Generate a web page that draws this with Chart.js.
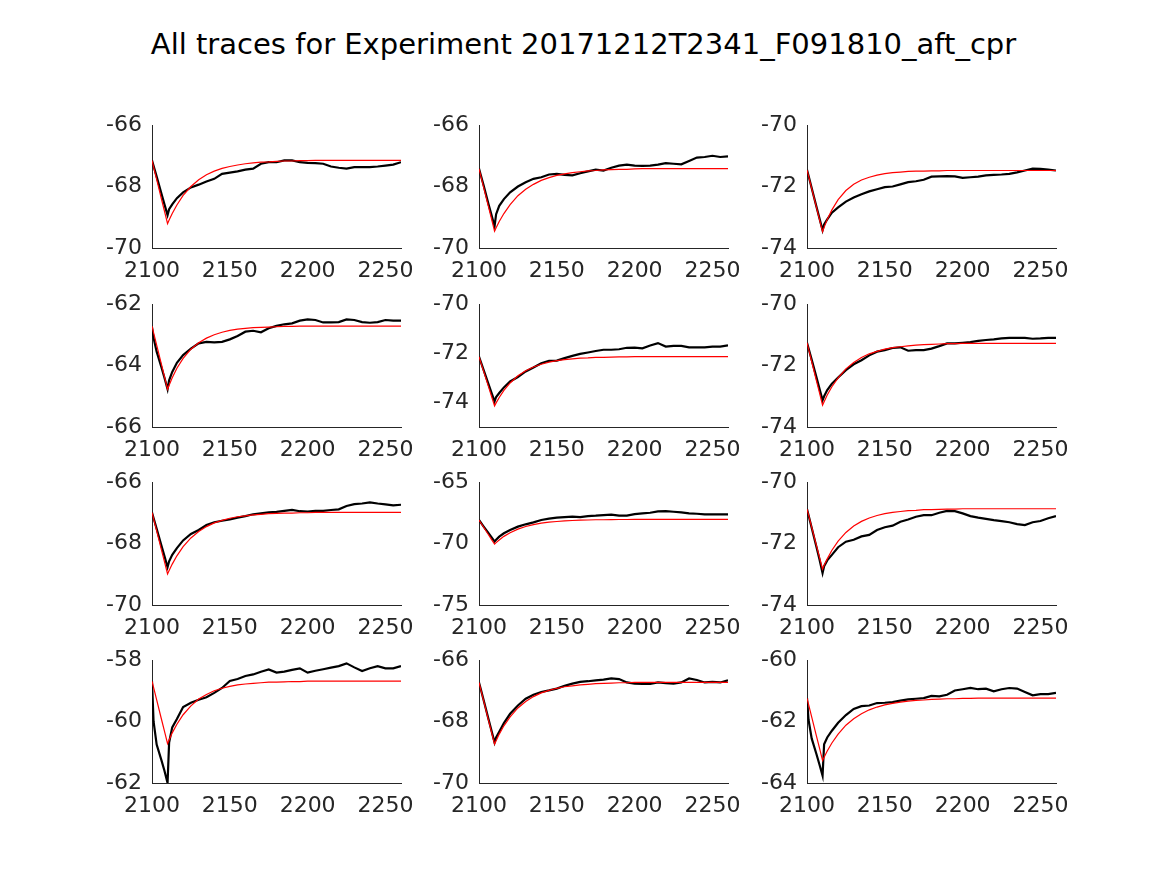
<!DOCTYPE html>
<html>
<head>
<meta charset="utf-8">
<script src="https://cdn.jsdelivr.net/npm/chart.js@4.4.1/dist/chart.umd.min.js"></script>
<style>
    body { margin: 0; background: #fff; width: 1167px; height: 875px; position: relative; overflow: hidden; font-family: 'DejaVu Sans', sans-serif; }
    #title { position: absolute; left: 0; top: 27px; width: 1167px; text-align: center; font-size: 29px; color: #000; white-space: nowrap; }
    canvas { position: absolute; }
</style>
</head>
<body>
<div id="title">All traces for Experiment 20171212T2341_F091810_aft_cpr</div>
<script>
// Sample times shared by every trace
const timePoints = [2100, 2101, 2103, 2106, 2108, 2110, 2111, 2113, 2116, 2120, 2125, 2130, 2135, 2140, 2145, 2150, 2155, 2160, 2165, 2170, 2175, 2180, 2185, 2190, 2195, 2200, 2205, 2210, 2215, 2220, 2225, 2230, 2235, 2240, 2245, 2250, 2255, 2260];
const xTicks = [2100, 2150, 2200, 2250];

// Measured traces (black) and fits (red), panels left to right, top to bottom
const trace1 = [-67.15, -67.33, -67.68, -68.22, -68.58, -68.93, -68.74, -68.58, -68.38, -68.19, -68.03, -67.94, -67.84, -67.75, -67.59, -67.55, -67.51, -67.45, -67.42, -67.26, -67.21, -67.21, -67.15, -67.15, -67.21, -67.23, -67.24, -67.26, -67.35, -67.39, -67.42, -67.37, -67.37, -67.37, -67.35, -67.32, -67.29, -67.21];
const fit1 = [-67.15, -67.36, -67.77, -68.39, -68.80, -69.21, -69.09, -68.88, -68.60, -68.29, -68.00, -67.78, -67.62, -67.50, -67.41, -67.35, -67.30, -67.26, -67.23, -67.21, -67.20, -67.18, -67.17, -67.17, -67.16, -67.16, -67.15, -67.15, -67.15, -67.15, -67.15, -67.15, -67.15, -67.15, -67.15, -67.15, -67.15, -67.15];

const trace2 = [-67.42, -67.60, -67.97, -68.55, -68.92, -69.29, -68.90, -68.63, -68.41, -68.19, -68.00, -67.86, -67.75, -67.70, -67.61, -67.59, -67.62, -67.64, -67.57, -67.51, -67.45, -67.48, -67.39, -67.32, -67.29, -67.32, -67.33, -67.32, -67.29, -67.24, -67.26, -67.28, -67.17, -67.06, -67.04, -67.00, -67.04, -67.02];
const fit2 = [-67.42, -67.62, -68.03, -68.64, -69.04, -69.45, -69.34, -69.14, -68.88, -68.59, -68.30, -68.09, -67.93, -67.80, -67.71, -67.64, -67.59, -67.55, -67.52, -67.49, -67.48, -67.46, -67.45, -67.44, -67.44, -67.43, -67.42, -67.42, -67.42, -67.42, -67.42, -67.42, -67.42, -67.42, -67.42, -67.42, -67.42, -67.42];

const trace3 = [-71.46, -71.65, -72.05, -72.64, -73.03, -73.42, -73.23, -73.07, -72.85, -72.68, -72.49, -72.36, -72.25, -72.16, -72.09, -72.02, -72.00, -71.93, -71.86, -71.83, -71.78, -71.68, -71.67, -71.66, -71.67, -71.72, -71.70, -71.68, -71.64, -71.62, -71.61, -71.59, -71.54, -71.48, -71.42, -71.43, -71.45, -71.48];
const fit3 = [-71.46, -71.66, -72.06, -72.66, -73.07, -73.47, -73.33, -73.07, -72.76, -72.43, -72.13, -71.93, -71.79, -71.70, -71.63, -71.58, -71.55, -71.53, -71.51, -71.50, -71.50, -71.49, -71.49, -71.48, -71.48, -71.48, -71.48, -71.48, -71.48, -71.48, -71.48, -71.48, -71.48, -71.48, -71.48, -71.48, -71.48, -71.48];

const trace4 = [-62.75, -63.10, -63.55, -64.05, -64.40, -64.77, -64.48, -64.21, -63.91, -63.66, -63.45, -63.28, -63.23, -63.25, -63.23, -63.15, -63.04, -62.90, -62.87, -62.92, -62.79, -62.71, -62.66, -62.63, -62.54, -62.50, -62.52, -62.60, -62.60, -62.59, -62.50, -62.52, -62.59, -62.61, -62.59, -62.52, -62.54, -62.54];
const fit4 = [-62.72, -62.93, -63.34, -63.95, -64.36, -64.77, -64.64, -64.40, -64.09, -63.77, -63.47, -63.26, -63.11, -63.00, -62.92, -62.86, -62.82, -62.79, -62.77, -62.76, -62.75, -62.74, -62.73, -62.73, -62.72, -62.72, -62.72, -62.72, -62.72, -62.72, -62.72, -62.72, -62.72, -62.72, -62.72, -62.72, -62.72, -62.72];

const trace5 = [-72.14, -72.32, -72.69, -73.24, -73.60, -73.96, -73.78, -73.62, -73.39, -73.15, -72.97, -72.74, -72.58, -72.41, -72.31, -72.30, -72.20, -72.11, -72.03, -71.97, -71.91, -71.86, -71.86, -71.84, -71.78, -71.77, -71.80, -71.69, -71.59, -71.73, -71.70, -71.70, -71.76, -71.76, -71.76, -71.73, -71.73, -71.68];
const fit5 = [-72.14, -72.34, -72.74, -73.34, -73.74, -74.14, -74.02, -73.80, -73.51, -73.21, -72.92, -72.71, -72.56, -72.45, -72.36, -72.30, -72.26, -72.23, -72.20, -72.19, -72.17, -72.17, -72.16, -72.15, -72.15, -72.14, -72.14, -72.14, -72.14, -72.14, -72.14, -72.14, -72.14, -72.14, -72.14, -72.14, -72.14, -72.14];

const trace6 = [-71.26, -71.44, -71.81, -72.37, -72.75, -73.13, -73.00, -72.80, -72.59, -72.39, -72.15, -71.96, -71.83, -71.67, -71.55, -71.50, -71.43, -71.41, -71.52, -71.50, -71.50, -71.45, -71.37, -71.28, -71.28, -71.26, -71.24, -71.20, -71.17, -71.15, -71.12, -71.10, -71.10, -71.10, -71.13, -71.12, -71.10, -71.10];
const fit6 = [-71.26, -71.46, -71.87, -72.48, -72.88, -73.29, -73.18, -72.96, -72.69, -72.40, -72.11, -71.90, -71.74, -71.62, -71.54, -71.47, -71.42, -71.39, -71.36, -71.34, -71.32, -71.31, -71.30, -71.29, -71.29, -71.28, -71.28, -71.28, -71.28, -71.28, -71.28, -71.28, -71.28, -71.28, -71.28, -71.28, -71.28, -71.28];

const trace7 = [-66.99, -67.17, -67.52, -68.06, -68.41, -68.77, -68.58, -68.37, -68.15, -67.90, -67.69, -67.56, -67.40, -67.31, -67.26, -67.22, -67.16, -67.11, -67.05, -67.02, -66.99, -66.97, -66.94, -66.91, -66.95, -66.96, -66.94, -66.94, -66.91, -66.89, -66.78, -66.72, -66.70, -66.66, -66.70, -66.73, -66.76, -66.74];
const fit7 = [-66.99, -67.19, -67.59, -68.19, -68.59, -68.99, -68.88, -68.67, -68.40, -68.10, -67.82, -67.61, -67.45, -67.33, -67.25, -67.18, -67.13, -67.10, -67.07, -67.05, -67.03, -67.02, -67.01, -67.01, -67.00, -67.00, -66.99, -66.99, -66.99, -66.99, -66.99, -66.99, -66.99, -66.99, -66.99, -66.99, -66.99, -66.99];

const trace8 = [-68.09, -68.27, -68.62, -69.14, -69.49, -69.84, -69.70, -69.44, -69.17, -68.90, -68.63, -68.44, -68.28, -68.09, -67.98, -67.90, -67.85, -67.82, -67.85, -67.77, -67.74, -67.69, -67.66, -67.74, -67.74, -67.61, -67.55, -67.50, -67.39, -67.37, -67.42, -67.47, -67.55, -67.58, -67.63, -67.63, -67.63, -67.63];
const fit8 = [-68.09, -68.29, -68.68, -69.27, -69.66, -70.05, -69.93, -69.71, -69.42, -69.12, -68.83, -68.62, -68.46, -68.35, -68.27, -68.21, -68.16, -68.13, -68.10, -68.09, -68.07, -68.07, -68.06, -68.05, -68.05, -68.04, -68.04, -68.04, -68.04, -68.04, -68.04, -68.04, -68.04, -68.04, -68.04, -68.04, -68.04, -68.04];

const trace9 = [-70.88, -71.08, -71.49, -72.10, -72.51, -72.96, -72.74, -72.55, -72.37, -72.12, -71.94, -71.88, -71.77, -71.72, -71.56, -71.47, -71.42, -71.29, -71.22, -71.13, -71.08, -71.08, -71.00, -70.94, -70.95, -71.02, -71.11, -71.16, -71.20, -71.24, -71.27, -71.31, -71.37, -71.40, -71.31, -71.27, -71.18, -71.11];
const fit9 = [-70.88, -71.07, -71.47, -72.05, -72.44, -72.83, -72.71, -72.50, -72.22, -71.92, -71.64, -71.43, -71.28, -71.17, -71.09, -71.03, -70.99, -70.96, -70.93, -70.92, -70.90, -70.90, -70.89, -70.88, -70.88, -70.87, -70.87, -70.87, -70.87, -70.87, -70.87, -70.87, -70.87, -70.87, -70.87, -70.87, -70.87, -70.87];

const trace10 = [-58.69, -60.00, -60.75, -61.25, -61.60, -62.00, -60.68, -60.19, -59.92, -59.53, -59.39, -59.29, -59.21, -59.07, -58.91, -58.68, -58.62, -58.52, -58.47, -58.38, -58.31, -58.41, -58.38, -58.32, -58.27, -58.41, -58.35, -58.30, -58.25, -58.20, -58.11, -58.24, -58.36, -58.27, -58.20, -58.27, -58.27, -58.20];
const fit10 = [-58.69, -58.89, -59.30, -59.91, -60.31, -60.72, -60.60, -60.37, -60.09, -59.78, -59.49, -59.27, -59.12, -59.00, -58.92, -58.86, -58.81, -58.78, -58.76, -58.74, -58.72, -58.72, -58.71, -58.70, -58.70, -58.69, -58.69, -58.69, -58.69, -58.69, -58.69, -58.69, -58.69, -58.69, -58.69, -58.69, -58.69, -58.69];

const trace11 = [-66.73, -66.92, -67.31, -67.90, -68.29, -68.68, -68.52, -68.33, -68.05, -67.75, -67.48, -67.26, -67.13, -67.04, -66.99, -66.93, -66.84, -66.77, -66.71, -66.69, -66.66, -66.64, -66.60, -66.62, -66.73, -66.77, -66.78, -66.78, -66.73, -66.75, -66.77, -66.73, -66.60, -66.65, -66.73, -66.71, -66.73, -66.66];
const fit11 = [-66.73, -66.93, -67.33, -67.94, -68.34, -68.74, -68.63, -68.41, -68.14, -67.85, -67.56, -67.35, -67.19, -67.07, -66.99, -66.92, -66.87, -66.84, -66.81, -66.79, -66.77, -66.76, -66.75, -66.74, -66.74, -66.73, -66.73, -66.73, -66.73, -66.73, -66.73, -66.73, -66.73, -66.73, -66.73, -66.73, -66.73, -66.73];

const trace12 = [-61.24, -61.95, -62.55, -63.05, -63.40, -63.76, -62.74, -62.52, -62.30, -62.04, -61.79, -61.59, -61.50, -61.48, -61.40, -61.39, -61.37, -61.32, -61.28, -61.26, -61.24, -61.17, -61.18, -61.13, -60.99, -60.95, -60.91, -60.95, -60.93, -61.02, -60.95, -60.91, -60.93, -61.04, -61.15, -61.11, -61.11, -61.07];
const fit12 = [-61.24, -61.44, -61.85, -62.46, -62.86, -63.27, -63.16, -62.96, -62.70, -62.41, -62.12, -61.91, -61.75, -61.62, -61.53, -61.46, -61.41, -61.37, -61.34, -61.31, -61.30, -61.28, -61.27, -61.26, -61.26, -61.25, -61.25, -61.24, -61.24, -61.24, -61.24, -61.24, -61.24, -61.24, -61.24, -61.24, -61.24, -61.24];

// y limits and tick labels per panel
const yLimits = [[-70, -66], [-70, -66], [-74, -70], [-66, -62], [-75, -70], [-74, -70], [-70, -66], [-75, -65], [-74, -70], [-62, -58], [-70, -66], [-64, -60]];
const yTicks = [[-70, -68, -66], [-70, -68, -66], [-74, -72, -70], [-66, -64, -62], [-74, -72, -70], [-74, -72, -70], [-70, -68, -66], [-75, -70, -65], [-74, -72, -70], [-62, -60, -58], [-70, -68, -66], [-64, -62, -60]];

const traces = [trace1, trace2, trace3, trace4, trace5, trace6, trace7, trace8, trace9, trace10, trace11, trace12];
const fits = [fit1, fit2, fit3, fit4, fit5, fit6, fit7, fit8, fit9, fit10, fit11, fit12];

// Panel geometry (plot area in page pixels)
const colLeft = [152, 479, 807];
const rowTop = [125, 304, 482, 660];
const PLOT_W = 249, PLOT_H = 123;
const AXIS_W = 70, AXIS_H = 40, PAD_T = 15, PAD_R = 30;

const axisColor = '#262626';
const tickFont = { family: 'DejaVu Sans', size: 22 };

traces.forEach((trace, i) => {
    const canvas = document.createElement('canvas');
    canvas.width = AXIS_W + PLOT_W + PAD_R;
    canvas.height = PAD_T + PLOT_H + AXIS_H;
    canvas.style.left = (colLeft[i % 3] - AXIS_W) + 'px';
    canvas.style.top = (rowTop[Math.floor(i / 3)] - PAD_T) + 'px';
    document.body.appendChild(canvas);

    new Chart(canvas, {
        type: 'line',
        data: {
            datasets: [
                { label: 'fit', data: timePoints.map((t, k) => ({ x: t, y: fits[i][k] })), borderColor: '#ff0000', borderWidth: 1.2 },
                { label: 'trace', data: timePoints.map((t, k) => ({ x: t, y: trace[k] })), borderColor: '#000000', borderWidth: 2.2 }
            ]
        },
        options: {
            responsive: false,
            animation: false,
            events: [],
            layout: { padding: { left: 0, top: PAD_T, right: PAD_R, bottom: 0 } },
            elements: { point: { radius: 0 }, line: { tension: 0, fill: false } },
            plugins: { legend: { display: false }, tooltip: { enabled: false } },
            scales: {
                x: {
                    type: 'linear',
                    min: 2100,
                    max: 2260,
                    afterBuildTicks: scale => { scale.ticks = xTicks.map(v => ({ value: v })); },
                    afterFit: scale => {
                        scale.height = AXIS_H;
                        scale.paddingLeft = 0;
                        scale.paddingRight = 0;
                    },
                    grid: { display: false, drawTicks: false },
                    border: { display: true, color: axisColor, width: 1 },
                    ticks: { color: axisColor, font: tickFont, padding: 10, maxRotation: 0, autoSkip: false, callback: v => String(v) }
                },
                y: {
                    type: 'linear',
                    min: yLimits[i][0],
                    max: yLimits[i][1],
                    afterBuildTicks: scale => { scale.ticks = yTicks[i].map(v => ({ value: v })); },
                    afterFit: scale => {
                        scale.width = AXIS_W;
                        scale.paddingTop = 0;
                        scale.paddingBottom = 0;
                    },
                    grid: { display: false, drawTicks: false },
                    border: { display: true, color: axisColor, width: 1 },
                    ticks: { color: axisColor, font: tickFont, padding: 10, autoSkip: false, callback: v => String(v) }
                }
            }
        }
    });
});
</script>
</body>
</html>
